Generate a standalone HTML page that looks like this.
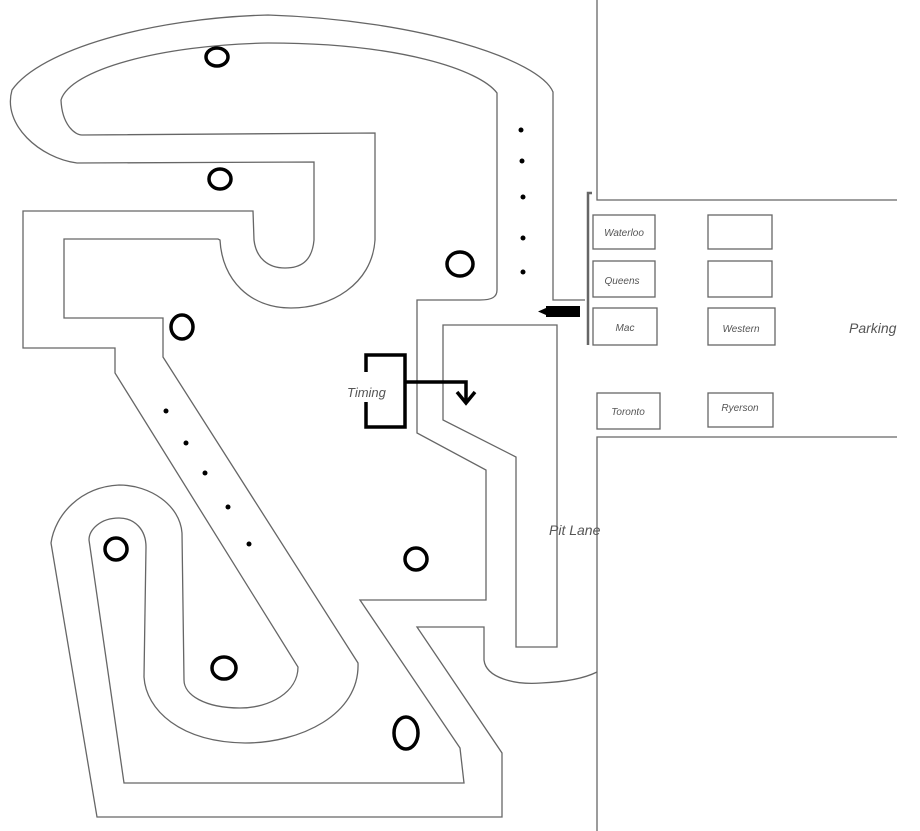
<!DOCTYPE html>
<html><head><meta charset="utf-8"><style>
html,body{margin:0;padding:0;background:#fff;}
svg{display:block}
text{font-family:"Liberation Sans",sans-serif;font-style:italic;fill:#555}
</style></head><body>
<svg width="920" height="831" viewBox="0 0 920 831" xmlns="http://www.w3.org/2000/svg">
<g fill="none" stroke="#666" stroke-width="1.3">
<!-- contour 1 -->
<path d="M585,300 L553,300 L553,92 C540,60 420,20 268,15 C150,18 40,50 12,90 C2,125 40,158 77,163 L314,162 L314,240 C312,262 300,268 285,268 C268,268 256,258 254,240 L253,211 L23,211 L23,348 L115,348 L115,373 L298,667 C298,692 270,708 240,708 C205,708 184,695 184,680 L182,533 C180,505 150,485 119,485 C80,487 55,515 51,543 L97,817 L502,817 L502,753 L417,627 L484,627 L484,660 C486,678 515,685 541,683 C565,682 585,678 597,672"/>
<!-- contour 2 -->
<path d="M417,433 L417,300 L480,300 C492,300 497,297 497,290 L497,93 C480,70 400,43 268,43 C160,45 70,70 61,100 C62,125 75,135 82,135 L375,133 L375,240 C372,285 330,308 291,308 C250,308 222,280 220,240 L218,239 L64,239 L64,318 L163,318 L163,357 L358,663 C360,715 300,743 245,743 C180,742 146,710 144,677 L146,547 C146,530 135,518 119,518 C100,518 89,530 89,540 L124,783 L464,783 L460,748 L360,600 L486,600 L486,470 Z"/>
<!-- pit lane -->
<path d="M443,325 L557,325 L557,647 L516,647 L516,457 L443,420 Z"/>
<!-- right side -->
<path d="M597,0 L597,200 L897,200"/>
<path d="M588,345 L588,193 L592,193" stroke-width="2.5"/>
<path d="M597,831 L597,437 L897,437"/>
<rect x="593" y="215" width="62" height="34"/>
<rect x="708" y="215" width="64" height="34"/>
<rect x="593" y="261" width="62" height="36"/>
<rect x="708" y="261" width="64" height="36"/>
<rect x="593" y="308" width="64" height="37"/>
<rect x="708" y="308" width="67" height="37"/>
<rect x="597" y="393" width="63" height="36"/>
<rect x="708" y="393" width="65" height="34"/>
</g>
<g font-size="10">
<text x="624" y="236" text-anchor="middle">Waterloo</text>
<text x="622" y="284" text-anchor="middle">Queens</text>
<text x="625" y="331" text-anchor="middle">Mac</text>
<text x="741" y="332" text-anchor="middle">Western</text>
<text x="628" y="415" text-anchor="middle">Toronto</text>
<text x="740" y="411" text-anchor="middle">Ryerson</text>
</g>
<text x="849" y="333" font-size="14">Parking</text>
<text x="549" y="535" font-size="14">Pit Lane</text>
<text x="347" y="397" font-size="13">Timing</text>
<g fill="none" stroke="#000" stroke-width="3.5">
<path d="M366,372 L366,355 L405,355 L405,427 L366,427 L366,402"/>
<path d="M405,382 L466,382 L466,402"/>
<path d="M457,392 L466,403 L475,392"/>
</g>
<rect x="546" y="306" width="34" height="11" fill="#000"/>
<path d="M546,308 L538,311.5 L546,315 Z" fill="#000"/>
<g fill="none" stroke="#000" stroke-width="3.5">
<ellipse cx="217" cy="57" rx="11" ry="9"/>
<ellipse cx="220" cy="179" rx="11" ry="10"/>
<ellipse cx="460" cy="264" rx="13" ry="12"/>
<ellipse cx="182" cy="327" rx="11" ry="12"/>
<ellipse cx="116" cy="549" rx="11" ry="11"/>
<ellipse cx="416" cy="559" rx="11" ry="11"/>
<ellipse cx="224" cy="668" rx="12" ry="11"/>
<ellipse cx="406" cy="733" rx="12" ry="16"/>
</g>
<g fill="#000">
<circle cx="521" cy="130" r="2.5"/><circle cx="522" cy="161" r="2.5"/><circle cx="523" cy="197" r="2.5"/><circle cx="523" cy="238" r="2.5"/><circle cx="523" cy="272" r="2.5"/>
<circle cx="166" cy="411" r="2.5"/><circle cx="186" cy="443" r="2.5"/><circle cx="205" cy="473" r="2.5"/><circle cx="228" cy="507" r="2.5"/><circle cx="249" cy="544" r="2.5"/>
</g>
</svg>
</body></html>
